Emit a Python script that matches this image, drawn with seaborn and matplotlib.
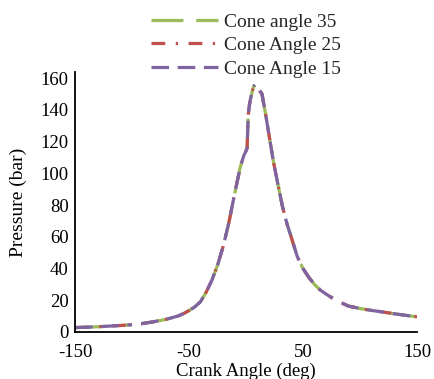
import numpy as np
import pandas as pd
import matplotlib
matplotlib.use("Agg")
import matplotlib.pyplot as plt
from matplotlib.lines import Line2D
import seaborn as sns

crank_angle = [-150, -140, -130, -120, -110, -100, np.nan,
               -92, -85, -80, -75, -70, -65, -60, -55, -50, -45, -40, -35, -30,
               -25, -20, -15, -10, -5, -2, 0, 1, 1.5, 2, 3, 4, 5, 6, 7, 8, np.nan,
               12, 14, 17, 20, 24, 28, 32, 36, 40, 45, 50, 55, 60, 65, 70, 76, np.nan,
               84, 90, 100, 110, 120, 130, 140, 150]

pressure_35 = [2.8, 3.0, 3.3, 3.7, 4.1, 4.6, np.nan,
               5.2, 6.0, 6.6, 7.3, 8.0, 9.0, 10.0, 11.5, 13.5, 15.8, 19.0, 25.0, 32.5,
               42.0, 54.0, 69.0, 87.0, 104.0, 111.0, 114.0, 116.0, 127.0, 137.0, 143.0, 147.0, 150.0, 153.0, 155.0, 155.5, np.nan,
               152.0, 150.0, 138.0, 125.0, 107.5, 93.0, 79.0, 68.0, 59.0, 47.5, 40.0, 34.5, 30.0, 26.5, 24.0, 21.3, np.nan,
               18.3, 16.3, 14.8, 13.6, 12.6, 11.5, 10.5, 9.6]

pressure_25 = [2.8, 3.0, 3.3, 3.7, 4.1, 4.6, np.nan,
               5.2, 6.0, 6.6, 7.3, 8.0, 9.0, 10.0, 11.5, 13.5, 15.8, 19.0, 25.0, 32.5,
               42.0, 54.0, 69.0, 87.0, 104.0, 111.0, 114.0, 116.0, 127.0, 137.0, 143.0, 147.0, 150.0, 153.0, 155.0, 155.5, np.nan,
               152.0, 150.0, 138.0, 125.0, 107.5, 93.0, 79.0, 68.0, 59.0, 47.5, 40.0, 34.5, 30.0, 26.5, 24.0, 21.3, np.nan,
               18.3, 16.3, 14.8, 13.6, 12.6, 11.5, 10.5, 9.6]

pressure_15 = [2.8, 3.0, 3.3, 3.7, 4.1, 4.6, np.nan,
               5.2, 6.0, 6.6, 7.3, 8.0, 9.0, 10.0, 11.5, 13.5, 15.8, 19.0, 25.0, 32.5,
               42.0, 54.0, 69.0, 87.0, 104.0, 111.0, 114.0, 116.0, 127.0, 137.0, 143.0, 147.0, 150.0, 153.0, 155.0, 155.5, np.nan,
               152.0, 150.0, 138.0, 125.0, 107.5, 93.0, 79.0, 68.0, 59.0, 47.5, 40.0, 34.5, 30.0, 26.5, 24.0, 21.3, np.nan,
               18.3, 16.3, 14.8, 13.6, 12.6, 11.5, 10.5, 9.6]

series_labels = ["Cone angle 35", "Cone Angle 25", "Cone Angle 15"]
x_ticks = [-150, -50, 50, 150]
y_ticks = [0, 20, 40, 60, 80, 100, 120, 140, 160]

# ---- styling ----
sns.set_theme(style="white")
plt.rcParams["font.family"] = ["Liberation Serif", "DejaVu Serif"]
plt.rcParams["font.size"] = 13.5

colors = ["#9BBB59", "#C0504D", "#8064A2"]
dash_styles = [(0, (10, 4)), (0, (4.3, 3.3, 0.7, 3.3)), (0, (5.5, 2.7))]
lw = 2.3

fig = plt.figure(figsize=(4.35, 3.79), dpi=100)
ax = fig.add_axes([75 / 435, 1 - 332 / 379, (417 - 75) / 435, (332 - 72) / 379])


def to_frame(x, y):
    df = pd.DataFrame({"x": x, "y": y})
    df["segment"] = df["x"].isna().cumsum()
    return df.dropna()


handles = []
for vals, lab, col, ds in zip([pressure_35, pressure_25, pressure_15], series_labels, colors, dash_styles):
    df = to_frame(crank_angle, vals)
    sns.lineplot(data=df, x="x", y="y", units="segment", estimator=None, sort=False,
                 color=col, linewidth=lw, linestyle=ds, ax=ax, legend=False)
    handles.append(Line2D([], [], color=col, linewidth=lw, linestyle=ds, label=lab))

ax.set_xlim(-150, 150)
ax.set_ylim(0, 163.8)
ax.set_xticks(x_ticks)
ax.set_yticks(y_ticks)
ax.set_xticklabels([str(t) for t in x_ticks])
ax.set_yticklabels([str(t) for t in y_ticks])

for side in ["top", "right"]:
    ax.spines[side].set_visible(False)
for side in ["left", "bottom"]:
    ax.spines[side].set_color("black")
    ax.spines[side].set_linewidth(1.3)

ax.tick_params(axis="both", which="major", direction="out", length=3, width=1.1,
               color="black", labelsize=13.5, labelcolor="black")
ax.tick_params(axis="y", pad=1.5)
ax.tick_params(axis="x", pad=5.5)

ax.set_xlabel("Crank Angle (deg)", fontsize=13.5, color="black", labelpad=1.2)
ax.set_ylabel("Pressure (bar)", fontsize=14, color="black", labelpad=10)

fig.legend(handles=handles, loc="upper left", bbox_to_anchor=(151 / 435, 1 - 13 / 379),
           frameon=False, fontsize=14, handlelength=3.45, handletextpad=0.3,
           labelspacing=0.3, borderpad=0, borderaxespad=0)

fig.savefig("out.png", dpi=100)
